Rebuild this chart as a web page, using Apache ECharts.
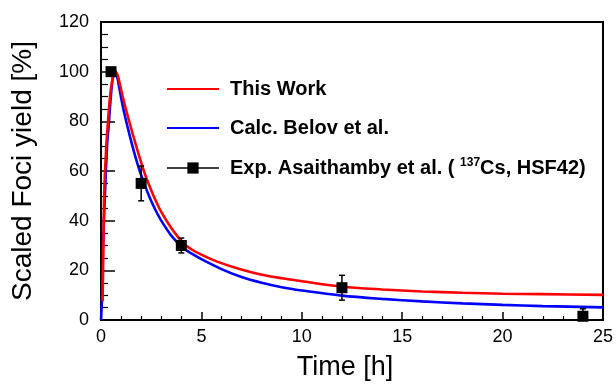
<!DOCTYPE html>
<html><head><meta charset="utf-8">
<script src="https://cdn.jsdelivr.net/npm/echarts/dist/echarts.min.js"></script>
<style>html,body{margin:0;padding:0;background:#fff}#c{width:616px;height:386px}</style>
</head><body><div id="c"></div>
<script>
const seriesNames = ['This Work', 'Calc. Belov et al.', 'Exp. Asaithamby et al. (137Cs, HSF42)'];
const redT = [0.08, 0.12, 0.16, 0.25, 0.33, 0.45, 0.55, 0.65, 0.75, 0.85, 1.04, 1.25, 1.49, 1.7, 1.94, 2.2, 2.44, 2.7, 3.0, 3.5, 4.09, 4.5, 5.0, 5.75, 6.9, 7.9, 9, 10, 12, 14, 16, 18, 20, 22, 25];
const redY = [7.5, 30, 51, 68, 78, 90, 96, 99.3, 99.6, 98, 91.3, 84.5, 77.5, 71.5, 65, 58.5, 53.5, 48.5, 43.5, 37, 31, 28.5, 26.3, 23.6, 20.5, 18.4, 16.8, 15.6, 13.4, 12.3, 11.5, 11.0, 10.6, 10.4, 10.1];
const blueT = [0, 0.05, 0.1, 0.2, 0.3, 0.38, 0.5, 0.6, 0.73, 0.82, 0.91, 1.1, 1.33, 1.55, 1.74, 1.95, 2.17, 2.44, 2.7, 3.0, 3.5, 4.09, 4.5, 5.0, 6.0, 7.0, 8, 9, 10, 12, 14, 16, 18, 20, 22, 25];
const blueY = [0, 9, 30, 51, 70, 78, 91, 98, 100, 97.5, 93.5, 85.5, 77.5, 70.5, 65, 59.5, 54.5, 49, 44.5, 40, 34, 29, 26.8, 24.5, 20.5, 17.3, 15.0, 13.2, 11.9, 9.8, 8.5, 7.5, 6.7, 6.1, 5.6, 5.1];
const expT = [0.5, 2, 4, 12, 24];
const expY = [100, 55, 30, 13, 1.5];
const expErr = [0, 7, 3, 5, 3];
const xTicks = [0, 5, 10, 15, 20, 25];
const yTicks = [0, 20, 40, 60, 80, 100, 120];

const zip = (a, b) => a.map((v, i) => [v, b[i]]);
const errData = expT.map((t, i) => [t, expY[i] - expErr[i], expY[i] + expErr[i]]);

const chart = echarts.init(document.getElementById('c'), null, {renderer: 'canvas'});
const font = 'Liberation Sans, Arial, sans-serif';
chart.setOption({
  animation: false,
  backgroundColor: '#fff',
  grid: {left: 101, right: 12, top: 22, bottom: 66, show: true, borderColor: '#000', borderWidth: 2, containLabel: false},
  xAxis: {
    type: 'value', min: xTicks[0], max: xTicks[xTicks.length - 1], interval: 5,
    name: 'Time [h]', nameLocation: 'middle', nameGap: 34,
    nameTextStyle: {fontFamily: font, fontSize: 27, color: '#000', padding: [0, 14, 0, 0]},
    axisLine: {lineStyle: {color: '#000', width: 2}},
    axisTick: {inside: true, length: 8, lineStyle: {color: '#000', width: 1.5}},
    minorTick: {show: true, splitNumber: 5, length: 4, lineStyle: {color: '#000', width: 1.2}},
    axisLabel: {fontFamily: font, fontSize: 18, color: '#000', margin: 8},
    splitLine: {show: false}
  },
  yAxis: {
    type: 'value', min: yTicks[0], max: yTicks[yTicks.length - 1], interval: 20,
    name: 'Scaled Foci yield [%]', nameLocation: 'middle', nameGap: 64,
    nameTextStyle: {fontFamily: font, fontSize: 28, color: '#000'},
    axisLine: {lineStyle: {color: '#000', width: 2}},
    axisTick: {inside: true, length: 14, lineStyle: {color: '#000', width: 1.5}},
    minorTick: {show: true, splitNumber: 4, length: 7, lineStyle: {color: '#000', width: 1.2}},
    axisLabel: {fontFamily: font, fontSize: 18, color: '#000', margin: 12},
    splitLine: {show: false}
  },
  legend: {
    orient: 'vertical', left: 166, top: 79, padding: 0, itemWidth: 52, itemHeight: 14, itemGap: 19,
    data: [
      {name: seriesNames[0], itemStyle: {opacity: 0}},
      {name: seriesNames[1], itemStyle: {opacity: 0}},
      {name: seriesNames[2], lineStyle: {color: '#000', width: 1.5, opacity: 1}}
    ],
    formatter: function (n) {
      if (n === seriesNames[2]) return '{b|Exp. Asaithamby et al. ( }{s|137}{b|Cs, HSF42)}';
      return '{b|' + n + '}';
    },
    textStyle: {
      rich: {
        b: {fontFamily: font, fontWeight: 'bold', fontSize: 20, color: '#000', lineHeight: 22},
        s: {fontFamily: font, fontWeight: 'bold', fontSize: 12, color: '#000', lineHeight: 12, verticalAlign: 'top'}
      },
      padding: [0, 0, 0, 6]
    }
  },
  series: [
    {name: seriesNames[0], type: 'line', data: zip(redT, redY), symbol: 'none', smooth: 0.3,
     lineStyle: {color: '#ff0000', width: 2.6}, itemStyle: {color: '#ff0000'}, z: 3},
    {name: seriesNames[1], type: 'line', data: zip(blueT, blueY), symbol: 'none', smooth: 0.3,
     lineStyle: {color: '#0000ff', width: 2.6}, itemStyle: {color: '#0000ff'}, z: 2},
    {name: seriesNames[2], type: 'line', data: zip(expT, expY), symbol: 'rect', symbolSize: 11,
     lineStyle: {opacity: 0, color: '#000', width: 1.5}, itemStyle: {color: '#000'}, z: 4},
    {type: 'custom', data: errData, clip: true, z: 4,
     renderItem: function (params, api) {
       const x = api.value(0), lo = api.value(1), hi = api.value(2);
       const p1 = api.coord([x, lo]), p2 = api.coord([x, hi]);
       const w = 3;
       return {type: 'group', children: [
         {type: 'line', shape: {x1: p1[0], y1: p1[1], x2: p2[0], y2: p2[1]}, style: {stroke: '#000', lineWidth: 1.5}},
         {type: 'line', shape: {x1: p1[0] - w, y1: p1[1], x2: p1[0] + w, y2: p1[1]}, style: {stroke: '#000', lineWidth: 1.5}},
         {type: 'line', shape: {x1: p2[0] - w, y1: p2[1], x2: p2[0] + w, y2: p2[1]}, style: {stroke: '#000', lineWidth: 1.5}}
       ]};
     }}
  ]
});
</script></body></html>
